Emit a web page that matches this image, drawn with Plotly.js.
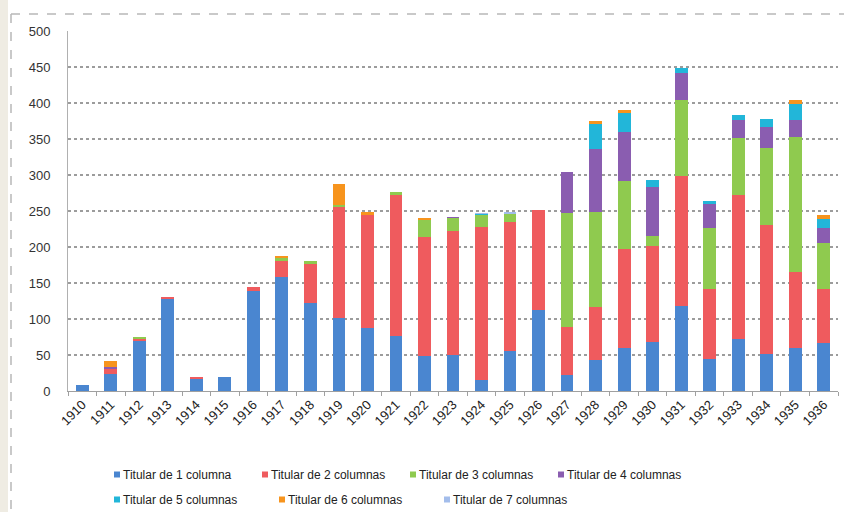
<!DOCTYPE html>
<html>
<head>
<meta charset="utf-8">
<script src="https://cdn.plot.ly/plotly-3.0.1.min.js"></script>
<style>html,body{margin:0;padding:0;background:#fff;}#chart{width:844px;height:512px;}</style>
</head>
<body>
<div id="chart"></div>
<script>
const years = ["1910","1911","1912","1913","1914","1915","1916","1917","1918","1919","1920","1921","1922","1923","1924","1925","1926","1927","1928","1929","1930","1931","1932","1933","1934","1935","1936"];
const seriesNames = ["Titular de 1 columna","Titular de 2 columnas","Titular de 3 columnas","Titular de 4 columnas","Titular de 5 columnas","Titular de 6 columnas","Titular de 7 columnas"];
const col1 = [9,24,69,128,16,20,139,159,122,102,87,76,48,50,15,55,113,22,43,60,68,118,44,72,51,60,66];
const col2 = [0,6,3,3,3,0,6,22,55,153,157,196,166,172,213,180,138,67,73,137,133,181,98,200,180,105,76];
const col3 = [0,0,3,0,0,0,0,4,4,3,1,4,23,18,17,11,0,158,132,94,14,105,85,80,107,188,63];
const col4 = [0,3,0,0,0,0,0,0,0,0,0,0,0,2,0,0,0,57,88,69,68,37,33,25,29,23,21];
const col5 = [0,0,0,0,0,0,0,0,0,0,0,0,0,0,1,0,0,0,35,26,10,8,4,6,11,22,13];
const col6 = [0,9,0,0,0,0,0,2,0,29,3,0,3,0,0,0,0,0,4,4,0,0,0,0,0,6,6];
const col7 = [0,0,0,0,0,0,0,0,0,0,0,0,0,0,1,2,0,0,0,0,0,0,0,0,0,0,0];
const yTicks = [0,50,100,150,200,250,300,350,400,450,500];

const colors = ["#4a86d0","#ef5b5e","#8fca4f","#8a5db0","#22b6d9","#f7941d","#a3bdeb"];
const allData = [col1,col2,col3,col4,col5,col6,col7];

const traces = allData.map((vals,i)=>({
  type:"bar", x:years, y:vals, name:seriesNames[i],
  marker:{color:colors[i], line:{width:0}},
  legend: i<4 ? "legend" : "legend2",
  hoverinfo:"x+y+name"
}));

// pixel helpers for paper coords (plot area: x 68..838, y 31..391)
const L=68, R=838, T=31, B=391;
const px = v => (v-L)/(R-L);
const py = v => (B-v)/(B-T);

const legFont = {family:"Liberation Sans, Arial, sans-serif", size:12, color:"#222"};
const layout = {
  width:844, height:512,
  margin:{l:L, r:844-R, t:T, b:512-B, pad:0, autoexpand:false},
  paper_bgcolor:"#ffffff", plot_bgcolor:"#ffffff",
  barmode:"stack", bargap:0.55,
  font:{family:"Liberation Sans, Arial, sans-serif", color:"#333333", size:12},
  xaxis:{type:"category", tickangle:-45, tickfont:{size:13, color:"#222"},
         showgrid:false, showline:true, linecolor:"#a0a0a0", linewidth:1,
         ticks:"outside", ticklen:4, tickcolor:"#a0a0a0", tickson:"boundaries",
         automargin:false, fixedrange:true},
  yaxis:{range:[0,500], tickvals:yTicks, ticktext:yTicks.map(String),
         tickfont:{size:13, color:"#333"}, showgrid:true, gridcolor:"#9c9c9c",
         gridwidth:2, griddash:"dot", showline:true, linecolor:"#b0b0b0", linewidth:1,
         ticks:"", ticklabelstandoff:14, zeroline:false, automargin:false, fixedrange:true},
  legend:{orientation:"h", traceorder:"normal", x:px(83), xanchor:"left", y:py(460), yanchor:"top",
          font:legFont, entrywidth:103, itemwidth:30, bgcolor:"rgba(0,0,0,0)"},
  legend2:{orientation:"h", traceorder:"normal", x:px(83), xanchor:"left", y:py(485), yanchor:"top",
          font:legFont, entrywidth:120, itemwidth:30, bgcolor:"rgba(0,0,0,0)"},
  shapes:[
    {type:"rect", xref:"paper", yref:"paper", x0:px(0), x1:px(8), y0:py(512), y1:py(0),
     fillcolor:"#efece3", line:{width:0}, layer:"below"},
    {type:"line", xref:"paper", yref:"paper", x0:px(11), x1:px(844), y0:py(14), y1:py(14),
     line:{color:"#b8b8b8", width:1.5, dash:"dash"}},
    {type:"line", xref:"paper", yref:"paper", x0:px(11), x1:px(11), y0:py(14), y1:py(512),
     line:{color:"#b8b8b8", width:1.5, dash:"dash"}}
  ],
  showlegend:true
};

Plotly.newPlot("chart", traces, layout, {displayModeBar:false, staticPlot:true}).then(gd => {
  // small square legend markers placed right before the text, as in the original
  gd.querySelectorAll("g.legendpoints path").forEach(p => {
    p.setAttribute("transform", "translate(34,0) scale(0.5)");
  });
  // let the longest legend labels show in full
  gd.querySelectorAll("g.legend [clip-path], g.legend2 [clip-path]").forEach(e => e.removeAttribute("clip-path"));
  gd.querySelectorAll(".legend [clip-path]").forEach(e => e.removeAttribute("clip-path"));
});
</script>
</body>
</html>
